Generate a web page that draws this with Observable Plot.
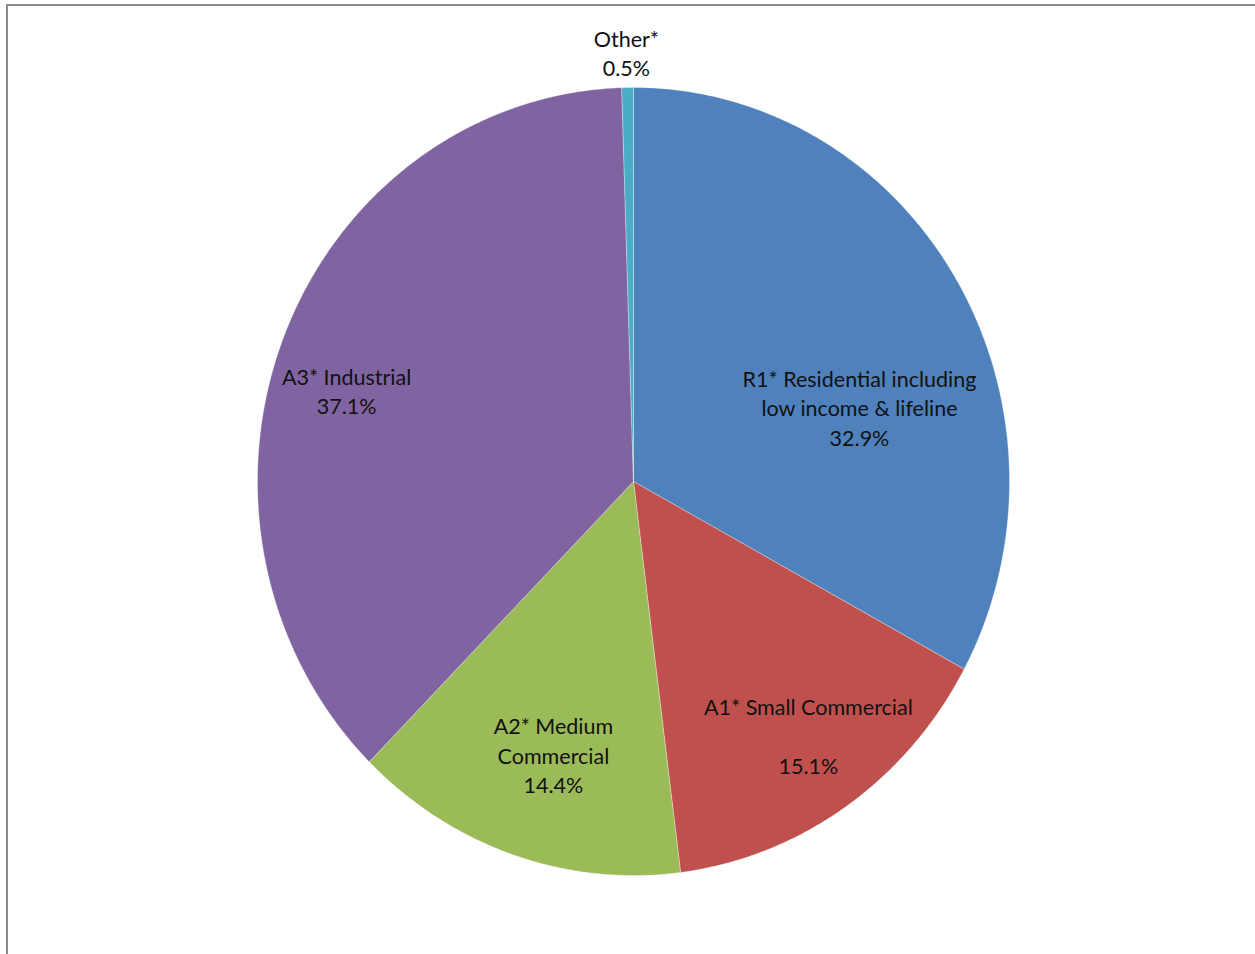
<!DOCTYPE html>
<html>
<head>
<meta charset="utf-8">
<script src="https://cdn.jsdelivr.net/npm/d3@7"></script>
<script src="https://cdn.jsdelivr.net/npm/@observablehq/plot@0.6"></script>
<style>
  html, body { margin: 0; padding: 0; background: #fff; width: 1255px; height: 954px; overflow: hidden; }
  #chart { position: absolute; left: 0; top: 0; }
  #border { position: absolute; left: 6px; top: 4px; width: 1300px; height: 1000px;
            border-top: 2px solid #8a8a8a; border-left: 2px solid #8a8a8a; pointer-events: none; }
</style>
</head>
<body>
<div id="chart"></div>
<div id="border"></div>
<script>
// Data (clockwise from 12 o'clock)
const categories = ["R1* Residential including low income & lifeline", "A1* Small Commercial", "A2* Medium Commercial", "A3* Industrial", "Other*"];
const shares = [32.9, 15.1, 14.4, 37.1, 0.5];
const labelTexts = ["R1* Residential including\nlow income & lifeline\n32.9%", "A1* Small Commercial\n\n15.1%", "A2* Medium\nCommercial\n14.4%", "A3* Industrial\n37.1%", "Other*\n0.5%"];
const colors = ["#4F81BD", "#C0504D", "#9BBB59", "#8064A2", "#4BACC6"];
// label anchors in pie units (unit circle frame)
const labelX = [0.601, 0.465, -0.213, -0.763, -0.019];
const labelY = [0.189, -0.644, -0.692, 0.232, 1.090];

const arcs = d3.pie().sort(null).value(d => d)(shares);
const wedgePts = [];
arcs.forEach((a, i) => {
  const cat = categories[i];
  wedgePts.push({cat, x: 0, y: 0});
  const n = Math.max(2, Math.ceil((a.endAngle - a.startAngle) / (Math.PI / 360)));
  for (let k = 0; k <= n; k++) {
    const t = a.startAngle + (a.endAngle - a.startAngle) * k / n;
    wedgePts.push({cat, x: Math.sin(t), y: Math.cos(t)});
  }
  wedgePts.push({cat, x: 0, y: 0});
});
const labels = categories.map((c, i) => ({text: labelTexts[i], x: labelX[i], y: labelY[i]}));

const chart = Plot.plot({
  width: 1255,
  height: 954,
  margin: 0,
  style: {background: "transparent", fontFamily: "Lato, 'Open Sans', sans-serif"},
  x: {domain: [-1, 1], range: [257, 1009], axis: null},
  y: {domain: [-1, 1], range: [875, 87], axis: null},
  color: {domain: categories, range: colors},
  marks: [
    Plot.line(wedgePts, {x: "x", y: "y", z: "cat", fill: "cat", stroke: "#ffffff", strokeWidth: 0.6, strokeOpacity: 0.5, curve: "linear"}),
    Plot.text(labels, {x: "x", y: "y", text: "text", fontSize: 21.5, lineHeight: 1.37, fill: "#111", textAnchor: "middle"})
  ]
});
document.getElementById("chart").appendChild(chart);
</script>
</body>
</html>
